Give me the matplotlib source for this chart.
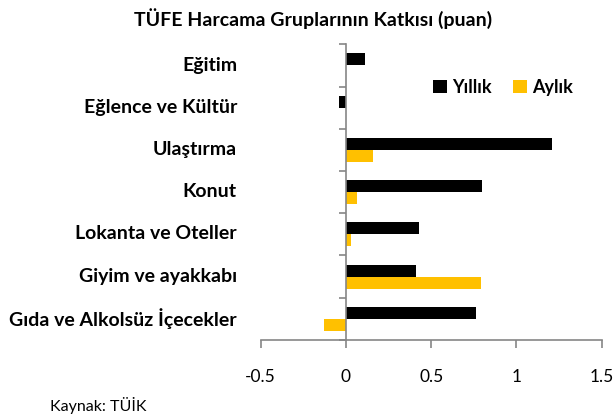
import numpy as np
import matplotlib.pyplot as plt

# kategoriler (alttan üste)
kategoriler = ["Gıda ve Alkolsüz İçecekler", "Giyim ve ayakkabı", "Lokanta ve Oteller",
               "Konut", "Ulaştırma", "Eğlence ve Kültür", "Eğitim"]
yillik = [0.76, 0.41, 0.43, 0.80, 1.21, -0.04, 0.11]
aylik = [-0.127, 0.79, 0.03, 0.064, 0.158, 0.0, 0.0]
xticks = [-0.5, 0, 0.5, 1, 1.5]
xtick_labels = ["-0.5", "0", "0.5", "1", "1.5"]

plt.rcParams['font.family'] = ['Lato', 'DejaVu Sans']

fig = plt.figure(figsize=(6.14, 4.17), dpi=100)
ax = fig.add_axes([0.4246, 0.1847, 0.5554, 0.7091])

y = np.arange(len(kategoriler))
h = 0.285
gri = "#868686"

ax.barh(y + h / 2, yillik, height=h, color="black", label="Yıllık")
ax.barh(y - h / 2, aylik, height=h, color="#FFC000", label="Aylık")

ax.set_xlim(-0.5, 1.5)
ax.set_ylim(-0.5, len(kategoriler) - 0.5)

# y ekseni 0'da
ax.spines['left'].set_position(('data', 0))
ax.spines['right'].set_visible(False)
ax.spines['top'].set_visible(False)
for s in ['left', 'bottom']:
    ax.spines[s].set_color(gri)
    ax.spines[s].set_linewidth(1.2)

ax.set_yticks(np.arange(len(kategoriler) + 1) - 0.5, minor=False)
ax.set_yticklabels([])
ax.tick_params(axis='y', length=5, color=gri, width=1.2, direction='out')
ax.set_xticks(xticks)
ax.set_xticklabels(xtick_labels, fontsize=12.5)
ax.tick_params(axis='x', length=6, color=gri, width=1.2, pad=15)

for yi, name in zip(y, kategoriler):
    fig.text(237 / 614, 1 - (44.3 + (6 - yi + 0.5) * 42.15) / 417, name,
             ha='right', va='center', fontsize=14, fontweight='bold')

fig.text(313 / 614, 1 - 19 / 417, "TÜFE Harcama Gruplarının Katkısı (puan)",
         ha='center', va='center', fontsize=14, fontweight='bold')
fig.text(50 / 614, 1 - 405 / 417, "Kaynak: TÜİK", ha='left', va='center', fontsize=11.5)

ax.legend(loc='center', bbox_to_anchor=(0.711, 0.855), ncol=2, frameon=False,
          prop={'weight': 'bold', 'size': 13}, handlelength=0.75, handleheight=0.75,
          handletextpad=0.3, columnspacing=1.2)

fig.savefig("out.png", dpi=100)
